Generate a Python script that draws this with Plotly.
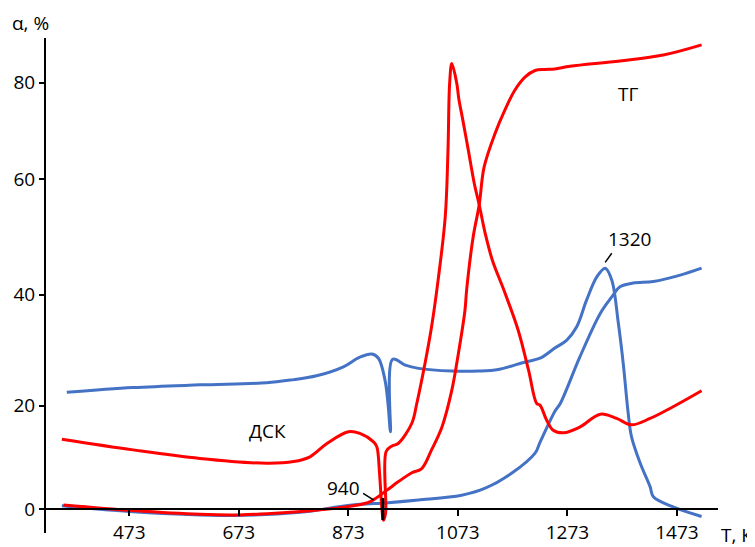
import plotly.graph_objects as go

# ---- data (temperature, K ; alpha, %) ----
dsc_red_T = [350, 480, 602, 724, 773, 803, 834, 873, 894, 919, 925, 930, 934, 937, 941, 942,
             952, 964, 989, 998, 1013, 1025, 1037, 1050, 1055, 1058, 1062, 1071, 1075, 1081,
             1092, 1103, 1112, 1123, 1136, 1157, 1183, 1202, 1217, 1223, 1235, 1247, 1266,
             1296, 1333, 1363, 1390, 1424, 1466, 1518]
dsc_red_V = [13.1, 11.1, 9.5, 8.6, 8.9, 9.8, 12.3, 14.5, 14.2, 12.6, 11.7, 6.7, 0.4, -2.1, -0.8, 10.8,
             11.8, 12.3, 16.1, 19.8, 27.3, 34.2, 43.0, 54.9, 67.4, 79.9, 83.6, 79.9, 76.8, 73.6,
             67.4, 61.1, 57.1, 51.7, 46.7, 41.1, 33.6, 26.1, 19.8, 19.5, 16.7, 14.8, 14.3,
             15.4, 17.8, 17.0, 15.8, 17.0, 19.2, 22.2]

tg_red_T = [353, 480, 602, 675, 754, 846, 882, 913, 943, 964, 989, 1007, 1025, 1044, 1062, 1074,
            1086, 1089, 1101, 1112, 1121, 1141, 1159, 1177, 1196, 1214, 1232, 1250, 1278, 1369,
            1448, 1518]
tg_red_V = [0.75, -0.3, -1.0, -1.1, -0.7, 0.1, 0.6, 1.4, 3.5, 5.1, 6.8, 7.6, 11.1, 15.4, 22.3, 29.2,
            37.3, 41.1, 51.1, 57.1, 64.2, 70.5, 74.9, 78.6, 81.1, 82.3, 82.5, 82.6, 83.1, 84.1,
            85.2, 87.1]

dsc_blue_T = [359, 480, 602, 724, 767, 815, 864, 894, 916, 928, 940, 946, 950, 954, 977, 1001,
              1062, 1110, 1147, 1196, 1223, 1250, 1272, 1290, 1308, 1327, 1342, 1354, 1366, 1375,
              1384, 1390, 1406, 1424, 1430, 1466, 1518]
dsc_blue_V = [21.9, 22.8, 23.3, 23.7, 24.2, 25.0, 26.7, 28.5, 29.1, 28.3, 24.2, 19.2, 14.5, 28.1, 27.0, 26.4,
              25.9, 25.9, 26.2, 27.6, 28.3, 30.2, 31.7, 34.2, 39.2, 43.6, 45.2, 43.0, 34.9, 27.3,
              18.0, 13.6, 8.6, 4.2, 2.3, 0.4, -1.4]

tg_blue_T = [350, 480, 662, 785, 876, 946, 1001, 1080, 1123, 1171, 1214, 1223, 1250, 1260, 1296,
             1333, 1354, 1369, 1393, 1430, 1479, 1518]
tg_blue_V = [0.6, -0.5, -1.2, -0.6, 0.7, 1.2, 1.7, 2.6, 3.9, 6.7, 10.5, 12.5, 18.3, 19.8, 28.6,
             36.7, 39.8, 41.7, 42.4, 42.7, 43.9, 45.2]

x_ticks = [473, 673, 873, 1073, 1273, 1473]
y_tick_pos = [0, 19.4, 40.2, 61.9, 80]
y_tick_text = ["0", "20", "40", "60", "80"]

RED = "#FF0000"
BLUE = "#4472C4"
FONT = "Open Sans"

fig = go.Figure()
for T, V, c in [(tg_blue_T, tg_blue_V, BLUE), (dsc_blue_T, dsc_blue_V, BLUE),
                (tg_red_T, tg_red_V, RED), (dsc_red_T, dsc_red_V, RED)]:
    fig.add_trace(go.Scatter(x=T, y=V, mode="lines",
                             line=dict(color=c, width=3, shape="spline", smoothing=1.0),
                             showlegend=False, hoverinfo="skip", cliponaxis=False))

# page body has an 8px margin, so the figure is 747x539 and margins are offset by 8px
fig.update_layout(
    width=747, height=539,
    margin=dict(l=38, r=37, t=30, b=14, autoexpand=False),
    paper_bgcolor="white", plot_bgcolor="white",
    font=dict(family=FONT, size=19, color="black"),
    showlegend=False,
    xaxis=dict(range=[321, 1548], tickvals=x_ticks, ticks="outside", ticklen=6, tickwidth=2,
               tickcolor="black", showline=True, linecolor="black", linewidth=2,
               showgrid=False, zeroline=False, anchor="free", position=0.0485,
               automargin=False, tickfont=dict(family=FONT, size=19)),
    yaxis=dict(range=[-4.5, 88.4], tickvals=y_tick_pos, ticktext=y_tick_text, ticks="outside",
               ticklen=5, tickwidth=2, tickcolor="black", showline=True, linecolor="black",
               linewidth=2, showgrid=False, zeroline=False, automargin=False,
               tickfont=dict(family=FONT, size=19)),
)

ann = [
    dict(text="α, %", xref="paper", yref="paper", x=-0.023, y=1.030),
    dict(text="Т, К", xref="paper", yref="paper", x=1.028, y=-0.004),
    dict(text="ДСК", xref="x", yref="y", x=725, y=14.6),
    dict(text="ТГ", xref="x", yref="y", x=1384, y=77.9),
    dict(text="1320", xref="x", yref="y", x=1387, y=50.7),
    dict(text="940", xref="x", yref="y", x=865, y=3.9),
]
for a in ann:
    fig.add_annotation(showarrow=False, xanchor="center", yanchor="middle",
                       font=dict(family=FONT, size=19, color="black"), **a)

fig.add_shape(type="line", xref="x", yref="y", x0=1342, y0=46.3, x1=1354, y1=48.0,
              line=dict(color="black", width=1.5))
fig.add_shape(type="line", xref="x", yref="y", x0=900, y0=2.95, x1=919, y1=1.7,
              line=dict(color="black", width=1.5))
fig.add_shape(type="line", xref="x", yref="y", x0=936, y0=2.06, x1=936, y1=-2.06,
              line=dict(color="black", width=3))

fig.write_html("out.html")
